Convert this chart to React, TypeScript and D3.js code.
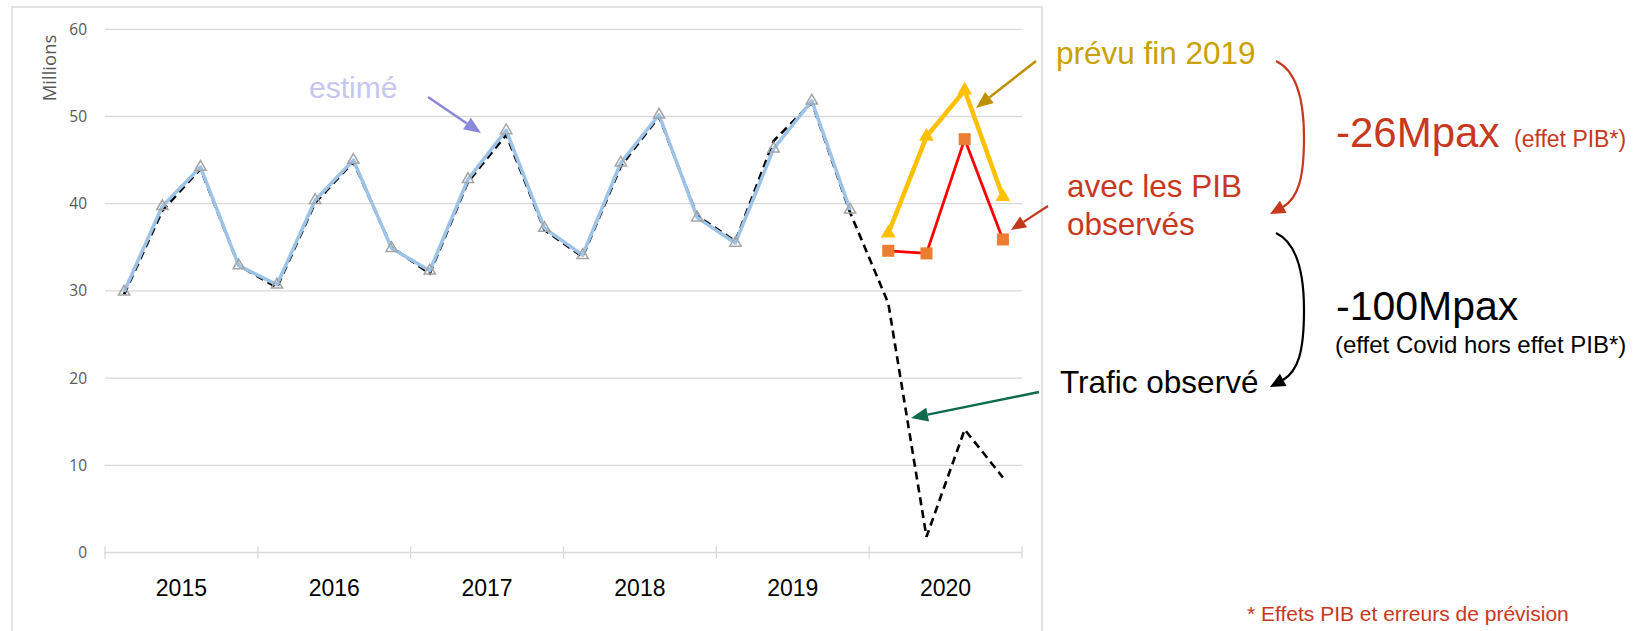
import React, { useEffect, useRef } from 'react';
import * as d3 from 'd3';

const years = ['2015', '2016', '2017', '2018', '2019', '2020'];
const quarters = ['T1', 'T2', 'T3', 'T4'];
const yTicks = [0, 10, 20, 30, 40, 50, 60];

// trafic trimestriel, millions de passagers
// estimé : 2015T1 -> 2019T4
const estime = [29.9, 39.7, 44.2, 32.9, 30.7, 40.4, 45.0, 34.9, 32.3, 42.8, 48.4, 37.2, 34.1, 44.7, 50.2, 38.4, 35.5, 46.3, 51.8, 39.3];
// observé : 2015T1 -> 2020T4
const observe = [29.6, 39.2, 44.0, 32.9, 30.4, 40.1, 44.8, 35.0, 32.0, 42.5, 47.9, 37.0, 33.9, 44.3, 50.0, 38.6, 35.7, 47.2, 51.6, 39.0, 28.6, 1.8, 14.1, 8.6];
// 2020T1 -> 2020T4
const prevu2019 = [36.6, 47.7, 53.0, 40.8];
const avecPib = [34.6, 34.3, 47.4, 35.9];

const RED = '#c8381e';
const FONT = 'Liberation Sans, Arial, sans-serif';

const Chart = () => {
  const svgRef = useRef(null);

  useEffect(() => {
    document.body.style.margin = '0';
    document.body.style.overflow = 'hidden';

    const svg = d3.select(svgRef.current);
    svg.selectAll('*').remove();

    const keys = years.flatMap((y) => quarters.map((q) => `${y}-${q}`));
    const x = d3.scaleBand().domain(keys).range([105, 1022]).padding(0);
    const cx = (i) => x(keys[i]) + x.bandwidth() / 2;
    const y = d3.scaleLinear().domain([0, 60]).range([552.5, 29.3]);
    const off2020 = keys.indexOf('2020-T1');

    // cadre du graphique
    svg.append('rect')
      .attr('x', 12).attr('y', 7).attr('width', 1030).attr('height', 660)
      .attr('fill', 'none').attr('stroke', '#d9d9d9').attr('stroke-width', 1.5);

    // grille
    svg.append('g')
      .selectAll('line')
      .data(yTicks)
      .join('line')
      .attr('x1', 105).attr('x2', 1022)
      .attr('y1', (d) => y(d)).attr('y2', (d) => y(d))
      .attr('stroke', '#d9d9d9').attr('stroke-width', 1.3);

    // graduations années
    const yearEdges = years.map((yr) => x(`${yr}-T1`)).concat([1022]);
    svg.append('g')
      .selectAll('line')
      .data(yearEdges)
      .join('line')
      .attr('x1', (d) => d).attr('x2', (d) => d)
      .attr('y1', y(0) - 6).attr('y2', y(0) + 6)
      .attr('stroke', '#d9d9d9').attr('stroke-width', 1.3);

    svg.append('g')
      .selectAll('text')
      .data(yTicks)
      .join('text')
      .attr('x', 87).attr('y', (d) => y(d))
      .attr('dy', '0.36em')
      .attr('text-anchor', 'end')
      .attr('font-family', 'Open Sans, sans-serif')
      .attr('font-size', 15.5)
      .attr('fill', '#595959')
      .text((d) => d);

    svg.append('text')
      .attr('transform', 'translate(56,68) rotate(-90)')
      .attr('text-anchor', 'middle')
      .attr('font-family', 'Open Sans, sans-serif')
      .attr('font-size', 18.5)
      .attr('fill', '#595959')
      .text('Millions');

    svg.append('g')
      .selectAll('text')
      .data(years)
      .join('text')
      .attr('x', (d) => x(`${d}-T1`) + x.bandwidth() * 2)
      .attr('y', 596)
      .attr('text-anchor', 'middle')
      .attr('font-family', FONT)
      .attr('font-size', 23)
      .attr('fill', '#000')
      .text((d) => d);

    const line = d3.line().x((d) => cx(d[0])).y((d) => y(d[1]));

    // trafic observé
    svg.append('path')
      .datum(observe.map((v, i) => [i, v]))
      .attr('d', line)
      .attr('fill', 'none')
      .attr('stroke', '#000')
      .attr('stroke-width', 2.6)
      .attr('stroke-dasharray', '8 5');

    // estimé
    svg.append('path')
      .datum(estime.map((v, i) => [i, v]))
      .attr('d', line)
      .attr('fill', 'none')
      .attr('stroke', '#9dc3e6')
      .attr('stroke-width', 3.5)
      .attr('stroke-linejoin', 'round');

    const triSmall = d3.symbol(d3.symbolTriangle, 55);
    svg.append('g')
      .selectAll('path')
      .data(estime)
      .join('path')
      .attr('transform', (d, i) => `translate(${cx(i)},${y(d)})`)
      .attr('d', triSmall())
      .attr('fill', 'none')
      .attr('stroke', '#a5a5a5')
      .attr('stroke-width', 1.5);

    // prévu fin 2019
    svg.append('path')
      .datum(prevu2019.map((v, i) => [i + off2020, v]))
      .attr('d', line)
      .attr('fill', 'none')
      .attr('stroke', '#ffc000')
      .attr('stroke-width', 4.5)
      .attr('stroke-linejoin', 'round');

    const triBig = d3.symbol(d3.symbolTriangle, 95);
    svg.append('g')
      .selectAll('path')
      .data(prevu2019)
      .join('path')
      .attr('transform', (d, i) => `translate(${cx(i + off2020)},${y(d)})`)
      .attr('d', triBig())
      .attr('fill', '#ffc000');

    // avec les PIB observés
    svg.append('path')
      .datum(avecPib.map((v, i) => [i + off2020, v]))
      .attr('d', line)
      .attr('fill', 'none')
      .attr('stroke', '#ff0000')
      .attr('stroke-width', 2.8);

    svg.append('g')
      .selectAll('rect')
      .data(avecPib)
      .join('rect')
      .attr('x', (d, i) => cx(i + off2020) - 6)
      .attr('y', (d) => y(d) - 6)
      .attr('width', 12).attr('height', 12)
      .attr('fill', '#ed7d31');

    // annotations
    const head = (tx, ty, fx, fy, color, len, half) => {
      const a = Math.atan2(ty - fy, tx - fx);
      const bx = tx - len * Math.cos(a);
      const by = ty - len * Math.sin(a);
      const px = -Math.sin(a) * half;
      const py = Math.cos(a) * half;
      svg.append('path')
        .attr('d', `M${tx},${ty}L${bx + px},${by + py}L${bx - px},${by - py}Z`)
        .attr('fill', color);
      return [bx, by];
    };
    const arrow = (x1, y1, x2, y2, color, w, len, half) => {
      const [bx, by] = head(x2, y2, x1, y1, color, len, half);
      svg.append('line')
        .attr('x1', x1).attr('y1', y1).attr('x2', bx).attr('y2', by)
        .attr('stroke', color).attr('stroke-width', w);
    };

    arrow(428, 97, 481, 133, '#8b87d9', 2.5, 17, 7);
    arrow(1036, 61, 976, 108, '#bf9000', 2.5, 17, 7);
    arrow(1048, 206, 1011, 230, '#c0391b', 2.2, 15, 6.5);
    arrow(1039, 392, 911, 418, '#0e6b4b', 2.5, 17, 7);

    const bracket = (y0, y1, color) => {
      const mid = (y0 + y1) / 2;
      svg.append('path')
        .attr('d', `M1276,${y0} C1297,${y0 + 10} 1304,${y0 + 40} 1304,${mid} C1304,${y1 - 35} 1298,${y1 - 16} 1283,${y1 - 7}`)
        .attr('fill', 'none')
        .attr('stroke', color)
        .attr('stroke-width', 2.2);
      head(1270, y1, 1285, y1 - 8, color, 15, 7);
    };
    bracket(61, 214, RED);
    bracket(233, 387, '#000');

    const label = (tx, ty, size, color, str) =>
      svg.append('text')
        .attr('x', tx).attr('y', ty)
        .attr('font-family', FONT)
        .attr('font-size', size)
        .attr('fill', color)
        .text(str);

    label(309, 98, 30, '#c6c6ee', 'estimé');
    label(1056, 64, 31.5, '#c8a200', 'prévu fin 2019');
    label(1067, 197, 31.5, RED, 'avec les PIB');
    label(1067, 235, 31.5, RED, 'observés');
    label(1336, 147, 42, RED, '-26Mpax');
    label(1514, 147, 23, RED, '(effet PIB*)');
    label(1336, 320, 41, '#000', '-100Mpax');
    label(1335, 353, 24, '#000', '(effet Covid hors effet PIB*)');
    label(1060, 393, 31.5, '#000', 'Trafic observé');
    label(1247, 621, 21, RED, '* Effets PIB et erreurs de prévision');
  }, []);

  return <svg ref={svgRef} width={1639} height={631} style={{ display: 'block' }} />;
};

export default function App() {
  return <Chart />;
}
